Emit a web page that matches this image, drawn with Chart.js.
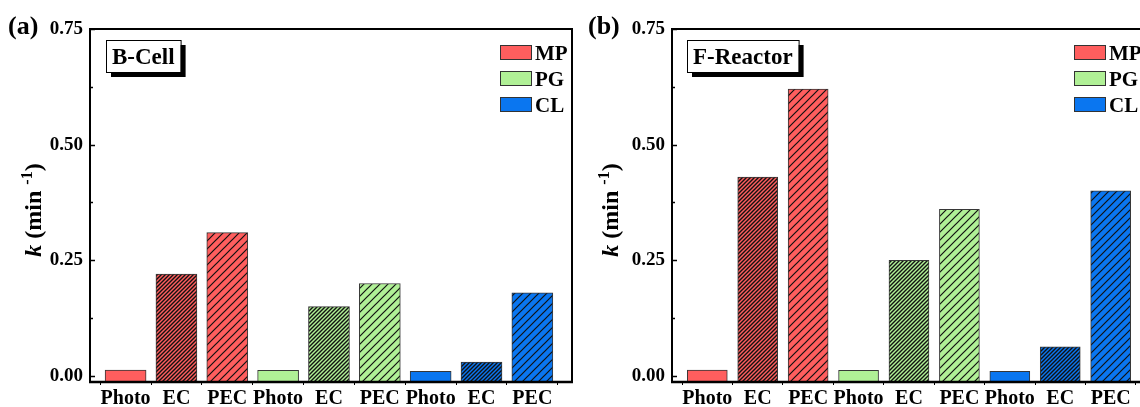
<!DOCTYPE html>
<html>
<head>
<meta charset="utf-8">
<script src="https://cdn.jsdelivr.net/npm/chart.js@4/dist/chart.umd.min.js"></script>
<style>
  html, body { margin: 0; padding: 0; background: #fff; overflow: hidden; width: 1140px; height: 407px; }
  canvas { position: absolute; top: 0; }
</style>
</head>
<body>
<canvas id="panelA" width="580" height="407" style="left:0"></canvas>
<canvas id="panelB" width="578" height="407" style="left:580px"></canvas>
<script>
// categories along x: three methods for each of three compounds
const groups = ['MP', 'PG', 'CL'];
const methods = ['Photo', 'EC', 'PEC'];
const categories = ['Photo', 'EC', 'PEC', 'Photo', 'EC', 'PEC', 'Photo', 'EC', 'PEC'];

// rate constants k (min^-1)
const bCellK = [0.013, 0.22, 0.31, 0.012, 0.15, 0.20, 0.010, 0.030, 0.18];
const fReactorK = [0.013, 0.43, 0.62, 0.012, 0.25, 0.36, 0.010, 0.063, 0.40];

// y axis ticks
const yTicks = [0, 0.25, 0.5, 0.75];
const yMinorTicks = [0.125, 0.375, 0.625];

const groupColors = ['#ff5e5e', '#b0f096', '#0a76f0'];
const serif = '"Liberation Serif", "Times New Roman", serif';

// diagonal hatch pattern, gap = line spacing in px
function hatch(color, gap, lw) {
  const c = document.createElement('canvas');
  c.width = gap; c.height = gap;
  const g = c.getContext('2d');
  g.fillStyle = color;
  g.fillRect(0, 0, gap, gap);
  g.strokeStyle = '#111';
  g.lineWidth = lw;
  g.beginPath();
  g.moveTo(0, gap); g.lineTo(gap, 0);
  g.moveTo(-1, 1); g.lineTo(1, -1);
  g.moveTo(gap - 1, gap + 1); g.lineTo(gap + 1, gap - 1);
  g.stroke();
  return g.createPattern(c, 'repeat');
}

function barFills() {
  const fills = [];
  groupColors.forEach(col => {
    fills.push(col);                 // Photo: plain
    fills.push(hatch(col, 4, 1.4));  // EC: dense hatch
    fills.push(hatch(col, 8, 1.2));  // PEC: wide hatch
  });
  return fills;
}

const Y_MIN = -0.013;

// frame, inner ticks, axis title, name box, legend and panel letter
const decorPlugin = {
  id: 'decor',
  afterDraw(chart, args, opts) {
    const ctx = chart.ctx;
    const a = chart.chartArea;
    const ys = chart.scales.y;
    ctx.save();

    // inward ticks on left axis
    ctx.strokeStyle = '#000';
    ctx.lineWidth = 1.5;
    yTicks.forEach(v => {
      const p = Math.round(ys.getPixelForValue(v)) + 0.5;
      ctx.beginPath(); ctx.moveTo(a.left, p); ctx.lineTo(a.left + 5, p); ctx.stroke();
    });
    yMinorTicks.forEach(v => {
      const p = Math.round(ys.getPixelForValue(v)) + 0.5;
      ctx.beginPath(); ctx.moveTo(a.left, p); ctx.lineTo(a.left + 3, p); ctx.stroke();
    });

    // frame
    ctx.lineWidth = 2;
    ctx.strokeRect(a.left, a.top, a.right - a.left, a.bottom - a.top);
    ctx.lineWidth = 2.5;
    ctx.beginPath(); ctx.moveTo(a.left - 1, a.bottom); ctx.lineTo(a.right + 1, a.bottom); ctx.stroke();

    // y axis title: k (min -1)
    ctx.save();
    ctx.translate(opts.titleX, 210);
    ctx.rotate(-Math.PI / 2);
    ctx.fillStyle = '#000';
    ctx.textBaseline = 'alphabetic';
    const big = 'bold 24px ' + serif;
    const bigI = 'italic bold 24px ' + serif;
    const small = 'bold 16px ' + serif;
    const parts = [
      { t: 'k', f: bigI, dy: 0 },
      { t: ' (min ', f: big, dy: 0 },
      { t: '-1', f: small, dy: -9 },
      { t: ')', f: big, dy: 0 }
    ];
    let total = 0;
    parts.forEach(p => { ctx.font = p.f; p.w = ctx.measureText(p.t).width; total += p.w; });
    let x = -total / 2;
    parts.forEach(p => { ctx.font = p.f; ctx.fillText(p.t, x, p.dy); x += p.w; });
    ctx.restore();

    // panel letter
    ctx.fillStyle = '#000';
    ctx.font = 'bold 26px ' + serif;
    ctx.textBaseline = 'alphabetic';
    ctx.textAlign = 'left';
    ctx.fillText(opts.letter, 8, 34);

    // name box with shadow
    ctx.font = 'bold 23px ' + serif;
    const tw = ctx.measureText(opts.name).width;
    const bx = a.left + opts.boxDx, by = a.top + 11, bw = tw + 12, bh = 32;
    ctx.fillStyle = '#000';
    ctx.fillRect(bx + 5, by + 5, bw, bh);
    ctx.fillStyle = '#fff';
    ctx.fillRect(bx, by, bw, bh);
    ctx.lineWidth = 1;
    ctx.strokeStyle = '#000';
    ctx.strokeRect(bx + 0.5, by + 0.5, bw, bh);
    ctx.fillStyle = '#000';
    ctx.fillText(opts.name, bx + 6, by + 24);

    // legend
    ctx.font = 'bold 21px ' + serif;
    groups.forEach((gname, i) => {
      const lx = a.right - opts.legDx, ly = a.top + 16 + i * 26;
      ctx.fillStyle = groupColors[i];
      ctx.fillRect(lx, ly, 32, 15);
      ctx.strokeStyle = '#333';
      ctx.lineWidth = 1;
      ctx.strokeRect(lx + 0.5, ly + 0.5, 31, 14);
      ctx.fillStyle = '#000';
      ctx.fillText(gname, lx + 35, ly + 15);
    });

    ctx.restore();
  }
};

function makePanel(id, values, cfg) {
  return new Chart(document.getElementById(id), {
    type: 'bar',
    data: {
      datasets: [{
        data: values.map((v, i) => ({ x: i, y: v })),
        backgroundColor: barFills(),
        borderColor: 'rgba(20,20,20,0.85)',
        borderWidth: 1,
        borderSkipped: false,
        barThickness: cfg.barWidth,
        base: Y_MIN
      }]
    },
    options: {
      responsive: false,
      animation: false,
      devicePixelRatio: 1,
      layout: { padding: { left: 0, right: 8, top: 29, bottom: 0 } },
      plugins: {
        legend: { display: false },
        tooltip: { enabled: false },
        decor: cfg.decor
      },
      scales: {
        x: {
          type: 'linear',
          offset: false,
          min: -0.7,
          max: 8.78,
          afterBuildTicks: s => { s.ticks = categories.map((c, i) => ({ value: i })); },
          afterFit: s => { s.height = 25; },
          border: { display: false },
          grid: { drawOnChartArea: false, color: '#000', lineWidth: 1, tickLength: 3 },
          ticks: {
            autoSkip: false,
            maxRotation: 0,
            padding: 2,
            color: '#000',
            font: { family: serif, size: 20, weight: 'bold' },
            callback: v => categories[v]
          }
        },
        y: {
          min: Y_MIN,
          max: 0.75,
          afterBuildTicks: s => { s.ticks = yTicks.map(v => ({ value: v })); },
          afterFit: s => { s.width = cfg.yWidth; },
          border: { display: false },
          grid: { display: false, drawTicks: false },
          ticks: {
            padding: 7,
            color: '#000',
            font: { family: serif, size: 19, weight: 'bold' },
            callback: v => v.toFixed(2)
          }
        }
      }
    },
    plugins: [decorPlugin]
  });
}

makePanel('panelA', bCellK, {
  yWidth: 90, barWidth: 41,
  decor: { letter: '(a)', name: 'B-Cell', titleX: 41, boxDx: 16, legDx: 72 }
});
makePanel('panelB', fReactorK, {
  yWidth: 92, barWidth: 40,
  decor: { letter: '(b)', name: 'F-Reactor', titleX: 38, boxDx: 15, legDx: 76 }
});
</script>
</body>
</html>
